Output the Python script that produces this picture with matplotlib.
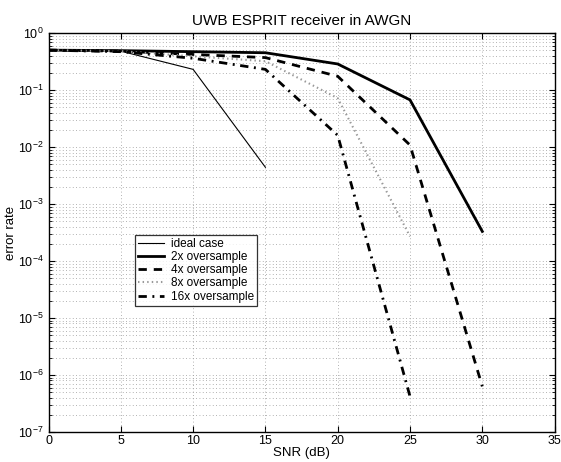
import matplotlib
matplotlib.use("Agg")
import matplotlib.pyplot as plt
from matplotlib.ticker import LogLocator, FixedLocator, NullFormatter

plt.rcParams['font.family'] = ['Liberation Sans', 'DejaVu Sans']
plt.rcParams['mathtext.fontset'] = 'custom'
plt.rcParams['mathtext.rm'] = 'Liberation Sans'

snr_ideal = [0, 5, 10, 15]
err_ideal = [0.5, 0.48, 0.23, 0.0044]

snr_2x = [0, 5, 10, 15, 20, 25, 30]
err_2x = [0.5, 0.49, 0.47, 0.45, 0.286, 0.067, 3.3e-4]

snr_4x = [0, 5, 10, 15, 20, 25, 30]
err_4x = [0.5, 0.48, 0.42, 0.37, 0.174, 0.0108, 6.3e-7]

snr_8x = [0, 5, 10, 15, 20, 25]
err_8x = [0.5, 0.48, 0.39, 0.32, 0.072, 2.7e-4]

snr_16x = [0, 5, 10, 15, 20, 25]
err_16x = [0.5, 0.47, 0.36, 0.23, 0.016, 4.2e-7]

labels = ['ideal case', '2x oversample', '4x oversample', '8x oversample', '16x oversample']

fig = plt.figure(figsize=(5.61, 4.62), dpi=100)
ax = fig.add_axes([0.0865, 0.065, 0.9886 - 0.0865, 0.9286 - 0.065])

ax.semilogy(snr_ideal, err_ideal, color='black', lw=0.8, label=labels[0])
ax.semilogy(snr_2x, err_2x, color='black', lw=2.0, label=labels[1])
ax.semilogy(snr_4x, err_4x, color='black', lw=2.0, ls=(0, (3, 2.5)), label=labels[2])
ax.semilogy(snr_8x, err_8x, color='#999999', lw=1.5, ls=(0, (0.7, 1.5)), label=labels[3])
ax.semilogy(snr_16x, err_16x, color='black', lw=2.0, ls=(0, (3, 2, 0.7, 2)), label=labels[4])

ax.set_xlim(0, 35)
ax.set_ylim(1e-7, 1)
ax.xaxis.set_major_locator(FixedLocator([0, 5, 10, 15, 20, 25, 30, 35]))
ax.yaxis.set_major_locator(LogLocator(base=10, numticks=20))
ax.yaxis.set_minor_locator(LogLocator(base=10, subs=range(2, 10), numticks=20))
ax.yaxis.set_minor_formatter(NullFormatter())

ax.grid(True, which='major', color='#999999', ls=(0, (1, 3)), lw=0.6)
ax.grid(True, which='minor', axis='y', color='#999999', ls=(0, (1, 3)), lw=0.6)

ax.tick_params(which='both', direction='in', top=True, right=True, labelsize=9)
ax.tick_params(axis='x', pad=2)
ax.tick_params(which='major', length=4)
ax.tick_params(which='minor', length=2)
for s in ax.spines.values():
    s.set_linewidth(1.0)

ax.set_title('UWB ESPRIT receiver in AWGN', fontsize=11, pad=6)
ax.set_xlabel('SNR (dB)', fontsize=9.5, labelpad=0)
ax.set_ylabel('error rate', fontsize=9.5, labelpad=1)

leg = ax.legend(loc='upper left', bbox_to_anchor=((135 - 48.5) / (554.6 - 48.5), 1 - (235 - 33) / 399.0),
                fontsize=8.5, frameon=True, fancybox=False, edgecolor='black',
                handlelength=2.2, handletextpad=0.6, borderpad=0.25, labelspacing=0.1,
                borderaxespad=0)
leg.get_frame().set_linewidth(0.9)

fig.savefig('out.png', dpi=100)
